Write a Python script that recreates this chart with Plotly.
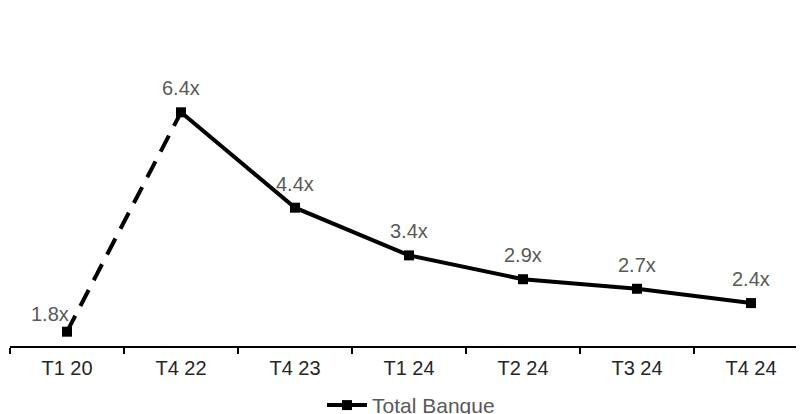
import plotly.graph_objects as go

categories = ["T1 20", "T4 22", "T4 23", "T1 24", "T2 24", "T3 24", "T4 24"]
values = [1.8, 6.4, 4.4, 3.4, 2.9, 2.7, 2.4]
labels = ["1.8x", "6.4x", "4.4x", "3.4x", "2.9x", "2.7x", "2.4x"]
series_name = "Total Banque"

FONT = "Liberation Sans, Arial"

fig = go.Figure()
fig.add_trace(go.Scatter(
    x=categories[:2], y=values[:2], mode="lines",
    line=dict(color="black", width=4, dash="18px,11px"),
    showlegend=False, hoverinfo="skip"))
fig.add_trace(go.Scatter(
    x=categories[1:], y=values[1:], mode="lines+markers",
    line=dict(color="black", width=4),
    marker=dict(symbol="square", size=10, color="black"),
    name=series_name))
fig.add_trace(go.Scatter(
    x=categories[:1], y=values[:1], mode="markers",
    marker=dict(symbol="square", size=10, color="black"),
    showlegend=False))

for i, (c, v, t) in enumerate(zip(categories, values, labels)):
    fig.add_annotation(x=c, y=v, text=t, showarrow=False,
                       yshift=18 if i == 0 else 24, xshift=-17 if i == 0 else 0,
                       font=dict(family=FONT, size=20, color="#595959"))

fig.update_layout(
    width=804, height=414,
    margin=dict(l=2, r=0, t=28, b=76, autoexpand=False),
    paper_bgcolor="white", plot_bgcolor="white",
    font=dict(family=FONT, size=20, color="#262626"),
    xaxis=dict(type="category", range=[-0.5, 6.535], showline=True, linecolor="black",
               linewidth=2, ticks="outside", tickson="boundaries", ticklen=6,
               tickwidth=2, tickcolor="black", showgrid=False, zeroline=False,
               automargin=False, ticklabelstandoff=3,
               tickfont=dict(size=20, color="#262626")),
    yaxis=dict(range=[1.5, 8.0], visible=False, showgrid=False, zeroline=False),
    legend=dict(orientation="h", x=0.5, xanchor="center", yref="container", y=0.04,
                yanchor="middle", font=dict(size=21, color="#595959"), itemwidth=40),
    showlegend=True,
)

fig.write_html("out.html")
